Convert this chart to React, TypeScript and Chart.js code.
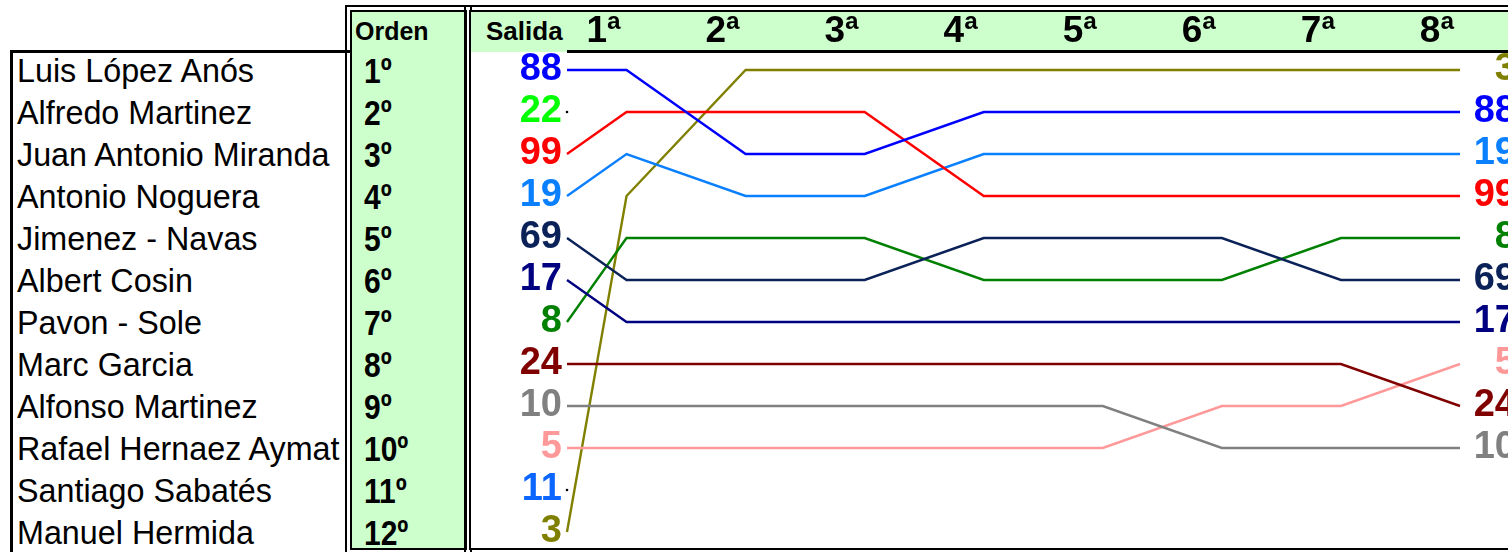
import React, { useEffect, useRef } from 'react';
import { Chart, registerables } from 'chart.js';

Chart.register(...registerables);

// ---------- data ----------
const DRIVERS = [
  'Luis López Anós',
  'Alfredo Martinez',
  'Juan Antonio Miranda',
  'Antonio Noguera',
  'Jimenez - Navas',
  'Albert Cosin',
  'Pavon - Sole',
  'Marc Garcia',
  'Alfonso Martinez',
  'Rafael Hernaez Aymat',
  'Santiago Sabatés',
  'Manuel Hermida',
];
const ORDEN = ['1º', '2º', '3º', '4º', '5º', '6º', '7º', '8º', '9º', '10º', '11º', '12º'];
const STAGE_LABELS = ['1ª', '2ª', '3ª', '4ª', '5ª', '6ª', '7ª', '8ª'];
const STAGE_X = [0.5, 1, 2, 3, 4, 5, 6, 7, 8]; // Salida + 8 vueltas
const DORSALES = [88, 22, 99, 19, 69, 17, 8, 24, 10, 5, 11, 3];
const COLORS = [
  '#0000FF', '#00FF00', '#FF0000', '#0A80FF', '#0B2258', '#000080',
  '#008000', '#800000', '#808080', '#FF9999', '#0A66FF', '#808000',
];

const POS_88 = [1, 1, 3, 3, 2, 2, 2, 2, 2];
const POS_22 = [2, null, null, null, null, null, null, null, null];
const POS_99 = [3, 2, 2, 2, 4, 4, 4, 4, 4];
const POS_19 = [4, 3, 4, 4, 3, 3, 3, 3, 3];
const POS_69 = [5, 6, 6, 6, 5, 5, 5, 6, 6];
const POS_17 = [6, 7, 7, 7, 7, 7, 7, 7, 7];
const POS_8 = [7, 5, 5, 5, 6, 6, 6, 5, 5];
const POS_24 = [8, 8, 8, 8, 8, 8, 8, 8, 9];
const POS_10 = [9, 9, 9, 9, 9, 9, 10, 10, 10];
const POS_5 = [10, 10, 10, 10, 10, 10, 9, 9, 8];
const POS_11 = [11, null, null, null, null, null, null, null, null];
const POS_3 = [12, 4, 1, 1, 1, 1, 1, 1, 1];

const POSITIONS = [POS_88, POS_22, POS_99, POS_19, POS_69, POS_17, POS_8, POS_24, POS_10, POS_5, POS_11, POS_3];

// ---------- layout ----------
const FONT = "'Liberation Sans', Arial, Helvetica, sans-serif";
const ROW0 = 70;
const ROW_H = 42;
const GREEN = '#CCFFCC';

function finalIndexAt(pos: number): number {
  return POSITIONS.findIndex((p) => p[p.length - 1] === pos);
}

export default function App() {
  const canvasRef = useRef<HTMLCanvasElement | null>(null);

  useEffect(() => {
    const canvas = canvasRef.current;
    if (!canvas) return;
    const datasets = POSITIONS.map((pos, i) => ({
      label: String(DORSALES[i]),
      data: STAGE_X.map((x, k) => ({ x, y: pos[k] })),
      borderColor: COLORS[i],
      backgroundColor: '#000000',
      borderWidth: 2.4,
      pointRadius: pos.filter((v) => v !== null).length === 1 ? 1.3 : 0,
      pointBorderWidth: 0,
      pointBackgroundColor: '#000000',
      spanGaps: false,
      tension: 0,
      clip: false as any,
    }));

    const yMin = 1 - (ROW0 - 51) / ROW_H;
    const yMax = 12 + (548 - (ROW0 + 11 * ROW_H)) / ROW_H;
    const rowTicks = (n: number) => Array.from({ length: n }, (_, i) => ({ value: i + 1 }));

    const chart = new Chart(canvas, {
      type: 'line',
      data: { datasets },
      options: {
        animation: false,
        responsive: false,
        maintainAspectRatio: false,
        layout: { padding: 0, autoPadding: false },
        plugins: { legend: { display: false }, tooltip: { enabled: false } },
        scales: {
          x: {
            type: 'linear',
            position: 'top',
            min: 0.5,
            max: 8,
            grid: { display: false, drawTicks: false },
            border: { display: false },
            afterBuildTicks: (s: any) => { s.ticks = STAGE_LABELS.map((_, i) => ({ value: i + 1 })); },
            afterFit: (s: any) => { s.height = 39; s.paddingLeft = 0; s.paddingRight = 0; },
            ticks: {
              autoSkip: false,
              maxRotation: 0,
              minRotation: 0,
              padding: 1,
              labelOffset: -23,
              color: '#000000',
              font: { family: FONT, size: 37, weight: 'bold', lineHeight: 1 },
              callback: (v: any) => STAGE_LABELS[Number(v) - 1] ?? '',
            },
          },
          y: {
            type: 'linear',
            position: 'left',
            reverse: true,
            min: yMin,
            max: yMax,
            grid: { display: false, drawTicks: false },
            border: { display: false },
            afterBuildTicks: (s: any) => { s.ticks = rowTicks(12); },
            afterFit: (s: any) => { s.width = 96; s.paddingTop = 0; s.paddingBottom = 0; },
            ticks: {
              autoSkip: false,
              padding: 5,
              color: (ctx: any) => COLORS[ctx.tick.value - 1],
              font: { family: FONT, size: 38, weight: 'bold', lineHeight: 1 },
              callback: (v: any) => String(DORSALES[Number(v) - 1] ?? ''),
            },
          },
          yRight: {
            type: 'linear',
            position: 'right',
            reverse: true,
            min: yMin,
            max: yMax,
            grid: { display: false, drawTicks: false },
            border: { display: false },
            afterBuildTicks: (s: any) => { s.ticks = rowTicks(12); },
            afterFit: (s: any) => { s.width = 56; s.paddingTop = 0; s.paddingBottom = 0; },
            ticks: {
              autoSkip: false,
              padding: 17,
              crossAlign: 'far',
              color: (ctx: any) => {
                const idx = finalIndexAt(ctx.tick.value);
                return idx >= 0 ? COLORS[idx] : '#000000';
              },
              font: { family: FONT, size: 38, weight: 'bold', lineHeight: 1 },
              callback: (v: any) => {
                const idx = finalIndexAt(Number(v));
                return idx >= 0 ? String(DORSALES[idx]) : '';
              },
            },
          },
        },
      } as any,
    });
    return () => chart.destroy();
  }, []);

  return (
    <div
      style={{
        position: 'absolute',
        left: 0,
        top: 0,
        width: 1508,
        height: 552,
        overflow: 'hidden',
        background: '#FFFFFF',
        fontFamily: FONT,
        color: '#000000',
      }}
    >
      {/* names box */}
      <div
        style={{
          position: 'absolute',
          left: 10,
          top: 50,
          width: 340,
          height: 520,
          borderTop: '3px solid #000',
          borderLeft: '3px solid #000',
          boxSizing: 'border-box',
        }}
      />
      {DRIVERS.map((name, i) => (
        <div
          key={name}
          style={{
            position: 'absolute',
            left: 17,
            top: ROW0 + i * ROW_H - ROW_H / 2 + 1,
            height: ROW_H,
            lineHeight: `${ROW_H}px`,
            fontSize: 32.3,
            whiteSpace: 'nowrap',
          }}
        >
          {name}
        </div>
      ))}

      {/* Orden column */}
      <div
        style={{
          position: 'absolute',
          left: 345,
          top: 5,
          width: 127,
          height: 550,
          border: '7px double #000',
          background: GREEN,
          backgroundClip: 'padding-box',
          boxSizing: 'border-box',
        }}
      />
      <div
        style={{
          position: 'absolute',
          left: 355,
          top: 12,
          height: 38,
          lineHeight: '38px',
          fontSize: 25,
          fontWeight: 'bold',
        }}
      >
        Orden
      </div>
      {ORDEN.map((o, i) => (
        <div
          key={o}
          style={{
            position: 'absolute',
            left: 364,
            top: ROW0 + i * ROW_H - ROW_H / 2 + 1,
            height: ROW_H,
            lineHeight: `${ROW_H}px`,
            fontSize: 30,
            fontWeight: 'bold',
            transform: 'scaleY(1.18)',
            transformOrigin: 'left center',
            whiteSpace: 'nowrap',
          }}
        >
          {o}
        </div>
      ))}

      {/* chart frame */}
      <div
        style={{
          position: 'absolute',
          left: 464,
          top: 5,
          width: 1200,
          height: 550,
          border: '7px double #000',
          background: '#FFFFFF',
          backgroundClip: 'padding-box',
          boxSizing: 'border-box',
        }}
      />
      <div
        style={{
          position: 'absolute',
          left: 471,
          top: 12,
          width: 1100,
          height: 40,
          background: GREEN,
        }}
      />
      <div
        style={{
          position: 'absolute',
          left: 567,
          top: 50,
          width: 1000,
          height: 3,
          background: '#000',
        }}
      />
      <div
        style={{
          position: 'absolute',
          left: 486,
          top: 12,
          height: 38,
          lineHeight: '38px',
          fontSize: 26,
          fontWeight: 'bold',
        }}
      >
        Salida
      </div>
      <canvas
        ref={canvasRef}
        width={1045}
        height={536}
        style={{ position: 'absolute', left: 471, top: 12, width: 1045, height: 536 }}
      />
    </div>
  );
}
